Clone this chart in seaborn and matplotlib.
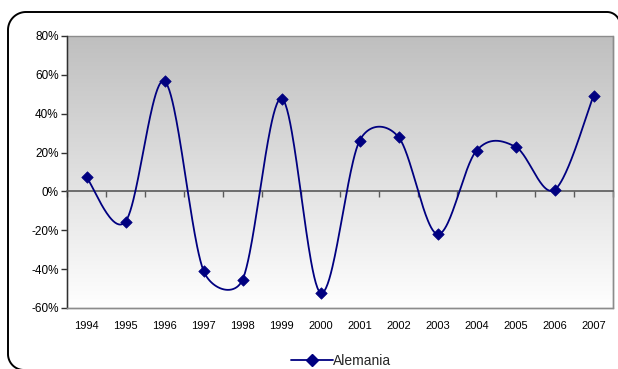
import numpy as np
import pandas as pd
import matplotlib
matplotlib.use("Agg")
import matplotlib.pyplot as plt
import seaborn as sns
from matplotlib.patches import Rectangle
from matplotlib.colors import LinearSegmentedColormap
from matplotlib.lines import Line2D
from matplotlib.ticker import FuncFormatter

# Annual variation (%) per year
years = ["1994", "1995", "1996", "1997", "1998", "1999", "2000",
         "2001", "2002", "2003", "2004", "2005", "2006", "2007"]
alemania = [7.3, -15.5, 56.7, -40.8, -45.5, 47.8, -52.1,
            26.0, 28.0, -22.0, 21.0, 23.0, 0.8, 49.1]
y_ticks = [-60, -40, -20, 0, 20, 40, 60, 80]
series_name = "Alemania"

LINE = "#000080"

sns.set_theme(style="white")
plt.rcParams["font.family"] = ["Liberation Sans", "DejaVu Sans"]

df = pd.DataFrame({"pos": np.arange(len(years)), "valor": alemania})

W, H = 618, 369
fig = plt.figure(figsize=(W / 100, H / 100), dpi=100)

# Full-figure overlay in pixel units for the rounded chart frame
frame_ax = fig.add_axes([0, 0, 1, 1], zorder=5)
frame_ax.set_xlim(0, W)
frame_ax.set_ylim(H, 0)
frame_ax.axis("off")
frame_ax.patch.set_alpha(0)


def arc(cx, cy, r, a0, a1):
    a = np.radians(np.linspace(a0, a1, 30))
    return np.column_stack([cx + r * np.cos(a), cy - r * np.sin(a)])


left, top, bottom = 8.0, 12.0, 370.0
r_tl, r_bl, r_tr = 18.0, 16.0, 13.0
outline = np.vstack([
    [[W + 30, bottom]],
    arc(left + r_bl, bottom - r_bl, r_bl, 270, 180),
    arc(left + r_tl, top + r_tl, r_tl, 180, 90),
    arc(607.0, top + r_tr, r_tr, 90, 0),
])
frame_ax.plot(outline[:, 0], outline[:, 1], color="black", lw=1.4,
              clip_on=False, solid_joinstyle="round")

ax = fig.add_axes([67 / W, 1 - 308 / H, (613 - 67) / W, (308 - 36) / H])
ax.set_xlim(-0.5, len(years) - 0.5)
ax.set_ylim(y_ticks[0], y_ticks[-1])

# Vertical grey-to-white background of the plot area
grad = LinearSegmentedColormap.from_list("bg", ["#ffffff", "#bfbfbf"])
ax.imshow(np.linspace(0, 1, 256).reshape(-1, 1), cmap=grad, origin="lower",
          extent=(0, 1, 0, 1), transform=ax.transAxes, aspect="auto", zorder=0)

# Smoothed line: Catmull-Rom style Bezier segments (tension 1/6), with each
# control arm capped at half the segment chord; built in display space
pts = ax.transData.transform(np.column_stack([df["pos"], df["valor"]]))
n = len(pts)


def arm(vec, chord):
    v = vec / 6.0
    length = np.hypot(*v)
    limit = chord / 2.0
    if length > limit > 0:
        v = v * (limit / length)
    return v


seg = []
t = np.linspace(0, 1, 50)[:, None]
for i in range(n - 1):
    p0 = pts[max(i - 1, 0)]
    p1 = pts[i]
    p2 = pts[i + 1]
    p3 = pts[min(i + 2, n - 1)]
    d12 = np.hypot(*(p2 - p1))
    c1 = p1 + arm(p2 - p0, d12)
    c2 = p2 - arm(p3 - p1, d12)
    b = ((1 - t) ** 3) * p1 + 3 * ((1 - t) ** 2) * t * c1 + 3 * (1 - t) * t ** 2 * c2 + t ** 3 * p2
    seg.append(b if i == 0 else b[1:])
curve = ax.transData.inverted().transform(np.vstack(seg))
ax.plot(curve[:, 0], curve[:, 1], color=LINE, lw=1.3, zorder=3, solid_capstyle="round")

sns.scatterplot(data=df, x="pos", y="valor", marker="D", s=34, color=LINE,
                edgecolor=LINE, linewidth=0.5, zorder=4, legend=False, ax=ax)
ax.set_xlabel("")
ax.set_ylabel("")

# Category axis drawn at 0 with tick marks between categories
ax.spines["top"].set_position(("data", 0))
ax.spines["top"].set_color("#5a5a5a")
ax.spines["top"].set_linewidth(1.2)
ax.spines["top"].set_zorder(2.6)
for s in ("right", "bottom"):
    ax.spines[s].set_color("#8c8c8c")
    ax.spines[s].set_linewidth(1.0)
ax.spines["left"].set_color("#303030")
ax.spines["left"].set_linewidth(1.0)
ax.add_patch(Rectangle((0, 0), 1, 1, transform=ax.transAxes, fill=False,
                       ec="#8c8c8c", lw=1.0, zorder=2, clip_on=False))

ax.set_xticks(df["pos"])
ax.set_xticklabels(years)
ax.set_xticks(np.arange(-0.5, len(years)), minor=True)
ax.tick_params(axis="x", which="major", bottom=True, top=False, length=0,
               labelbottom=True, labeltop=False, pad=9.5, labelsize=8, colors="black")
ax.tick_params(axis="x", which="minor", bottom=False, top=True, direction="in",
               length=4, width=1, color="#5a5a5a", labeltop=False, labelbottom=False)

ax.set_yticks(y_ticks)
ax.yaxis.set_major_formatter(FuncFormatter(lambda v, _: f"{v:.0f}%"))
ax.tick_params(axis="y", which="major", left=True, direction="out", length=4,
               width=1, color="#303030", pad=2, labelsize=8.5, labelcolor="black")

# Legend under the plot
handle = Line2D([], [], color=LINE, lw=1.3, marker="D", markersize=6,
                markeredgecolor=LINE)
fig.legend(handles=[handle], labels=[series_name], loc="center left",
           bbox_to_anchor=(291 / W, 1 - 361 / H), frameon=False, borderpad=0,
           borderaxespad=0, handlelength=3.0, handletextpad=0.05, fontsize=10)

fig.savefig("out.png", dpi=100, facecolor="white")
